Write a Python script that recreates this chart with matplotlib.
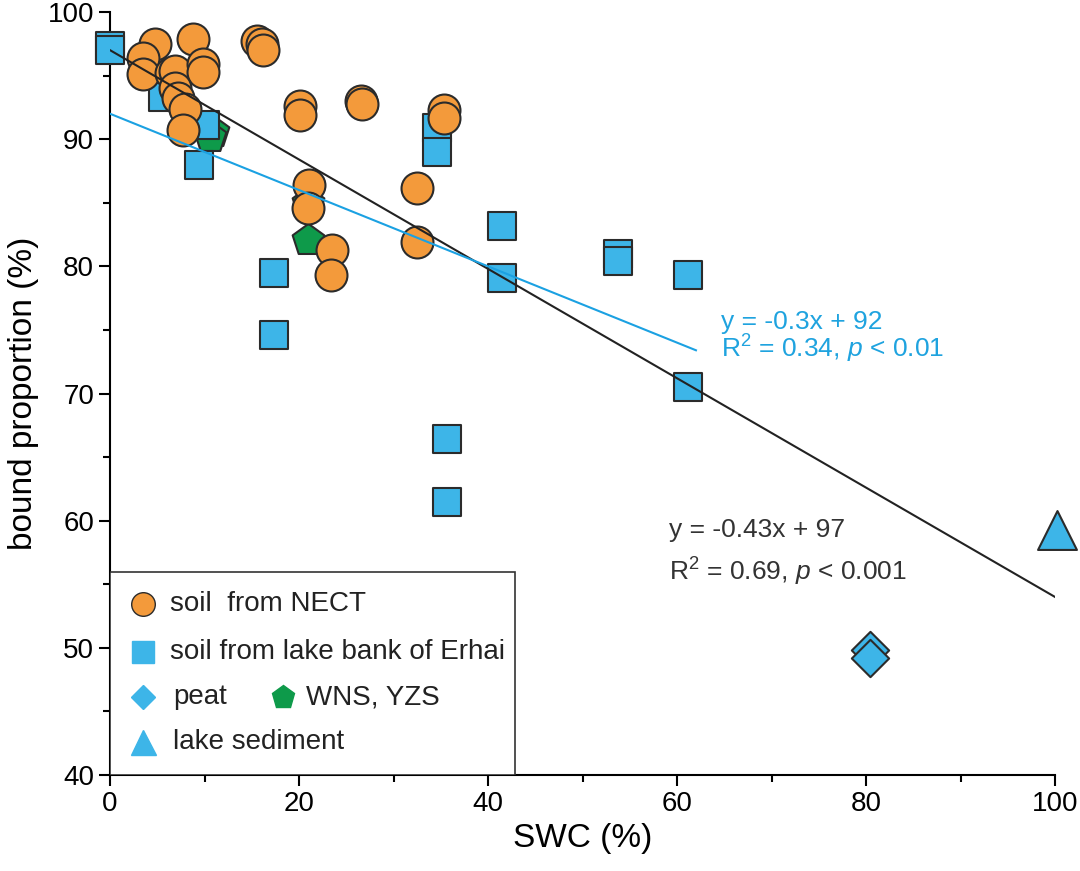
import matplotlib.pyplot as plt
import numpy as np
from matplotlib.patches import Rectangle

plt.rcParams['font.family'] = ['Liberation Sans', 'DejaVu Sans']
plt.rcParams['mathtext.fontset'] = 'custom'
plt.rcParams['mathtext.rm'] = 'Liberation Sans'
plt.rcParams['mathtext.it'] = 'Liberation Sans:italic'

# soil from NECT
nect_x = [4.8, 3.5, 8.8, 3.5, 6.4, 6.9, 9.8, 9.8, 6.9, 7.2, 7.9, 7.7, 15.5, 16.1, 16.2,
          20.1, 20.1, 26.6, 26.7, 35.3, 35.3, 21.0, 20.9, 32.5, 32.5, 23.5, 23.4]
nect_y = [97.5, 96.4, 97.9, 95.1, 95.2, 95.4, 95.9, 95.3, 94.0, 93.2, 92.4, 90.7, 97.7, 97.5, 97.0,
          92.6, 91.9, 93.0, 92.8, 92.3, 91.7, 86.4, 84.6, 86.2, 81.9, 81.3, 79.3]

# soil from lake bank of Erhai
erhai_x = [0.0, 0.0, 5.6, 10.1, 9.4, 17.4, 17.3, 34.6, 34.6, 41.5, 41.5, 53.7, 53.7, 61.2, 61.2, 35.7, 35.7]
erhai_y = [97.3, 97.0, 93.3, 91.1, 88.0, 79.5, 74.6, 90.9, 89.0, 83.2, 79.1, 81.0, 80.4, 79.3, 70.5, 66.4, 61.5]

# peat
peat_x = [80.4, 80.4]
peat_y = [49.8, 49.2]

# WNS, YZS
wns_x = [10.9, 10.6, 20.9, 20.9]
wns_y = [90.6, 90.2, 85.0, 82.1]

# lake sediment
lake_x = [100.2]
lake_y = [59.3]

# fitted lines
all_slope, all_icpt = -0.43, 97
erhai_slope, erhai_icpt = -0.3, 92

orange = '#F39A3B'
blue = '#3DB5E8'
green = '#0E9A4A'
edge = '#2B2B2B'

fig = plt.figure(figsize=(10.8, 8.71), dpi=100)
ax = fig.add_axes([0.1019, 0.1102, 0.875, 0.876])

ax.scatter(wns_x, wns_y, marker='p', s=24**2, c=green, edgecolors=edge, linewidths=1.5, zorder=3, clip_on=False)
ax.scatter(erhai_x, erhai_y, marker='s', s=20**2, c=blue, edgecolors=edge, linewidths=1.5, zorder=4, clip_on=False)
ax.scatter(nect_x, nect_y, marker='o', s=23**2, c=orange, edgecolors=edge, linewidths=1.5, zorder=5, clip_on=False)
ax.scatter(peat_x, peat_y, marker='D', s=19**2, c=blue, edgecolors=edge, linewidths=1.5, zorder=4, clip_on=False)
ax.scatter(lake_x, lake_y, marker='^', s=28**2, c=blue, edgecolors=edge, linewidths=1.5, zorder=4, clip_on=False)

xx = np.array([0, 100])
ax.plot(xx, all_slope * xx + all_icpt, color='#222222', lw=1.5, zorder=6)
xb = np.array([0, 62])
ax.plot(xb, erhai_slope * xb + erhai_icpt, color='#1BA1E2', lw=1.5, zorder=6)

ax.text(64.6, 75.6, 'y = -0.3x + 92', color='#1FA3DF', fontsize=19, ha='left', va='center')
ax.text(64.6, 73.5, r'R$^{2}$ = 0.34, $p$ < 0.01', color='#1FA3DF', fontsize=19, ha='left', va='center')
ax.text(59.1, 59.3, 'y = -0.43x + 97', color='#333333', fontsize=19, ha='left', va='center')
ax.text(59.1, 56.0, r'R$^{2}$ = 0.69, $p$ < 0.001', color='#333333', fontsize=19, ha='left', va='center')

# legend box drawn by hand (row 3 holds two entries)
ax.add_patch(Rectangle((0, 0), 0.4286, 0.266, transform=ax.transAxes, fill=True,
                       facecolor='white', edgecolor='#333333', lw=1.2, zorder=7))
leg = [(0.035, 0.224, 'o', orange, 17, 0.0635, 'soil  from NECT'),
       (0.035, 0.161, 's', blue, 16, 0.0635, 'soil from lake bank of Erhai'),
       (0.035, 0.102, 'D', blue, 12, 0.0667, 'peat'),
       (0.183, 0.102, 'p', green, 17, 0.207, 'WNS, YZS'),
       (0.035, 0.043, '^', blue, 18, 0.0667, 'lake sediment')]
for mx, my, mk, col, ms, tx, lab in leg:
    edgec = edge if mk == 'o' else col
    ax.plot(mx, my, marker=mk, ms=ms, color=col, mec=edgec, mew=1, transform=ax.transAxes, zorder=8)
    ax.text(tx, my, lab, fontsize=20, color='#222222', ha='left', va='center', transform=ax.transAxes, zorder=8)

ax.set_xlim(0, 100)
ax.set_ylim(40, 100)
ax.set_xticks([0, 20, 40, 60, 80, 100])
ax.set_xticks(np.arange(10, 100, 20), minor=True)
ax.set_yticks([40, 50, 60, 70, 80, 90, 100])
ax.set_yticks(np.arange(45, 100, 10), minor=True)
ax.tick_params(which='major', length=8, width=1.5, labelsize=20, direction='out')
ax.tick_params(which='minor', length=5, width=1.5, direction='out')
for s in ['top', 'right']:
    ax.spines[s].set_visible(False)
for s in ['left', 'bottom']:
    ax.spines[s].set_linewidth(1.5)

ax.set_xlabel('SWC (%)', fontsize=24, labelpad=4)
ax.set_ylabel('bound proportion (%)', fontsize=24, labelpad=6)

fig.savefig('out.png', dpi=100)
